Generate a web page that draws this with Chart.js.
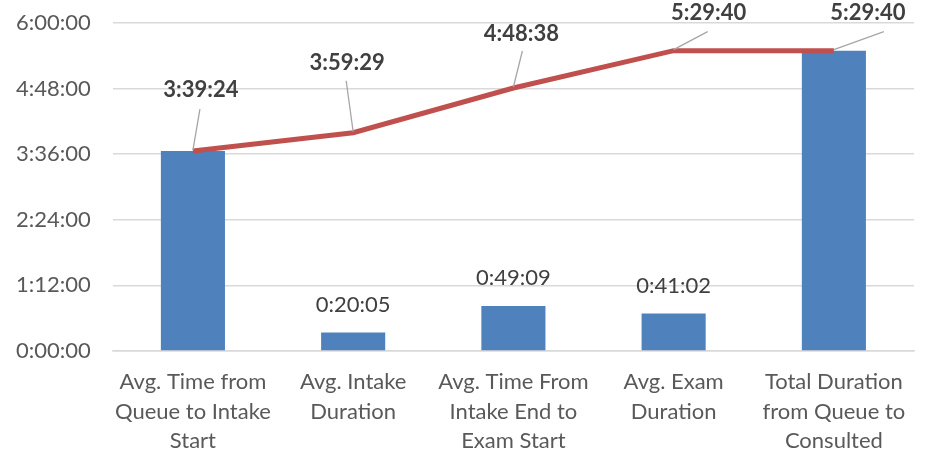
<!DOCTYPE html>
<html>
<head>
<meta charset="utf-8">
<script src="https://cdn.jsdelivr.net/npm/chart.js@4/dist/chart.umd.min.js"></script>
<style>
html,body{margin:0;padding:0;background:#fff;}
#wrap{width:938px;height:454px;position:relative;}
</style>
</head>
<body>
<div id="wrap"><canvas id="c" width="938" height="454"></canvas></div>
<script>
const categories = [
  ["Avg. Time from", "Queue to Intake", "Start"],
  ["Avg. Intake", "Duration"],
  ["Avg. Time From", "Intake End to", "Exam Start"],
  ["Avg. Exam", "Duration"],
  ["Total Duration", "from Queue to", "Consulted"]
];
// values in seconds
const barValues = [13164, 1205, 2949, 2462, 19780];       // 3:39:24, 0:20:05, 0:49:09, 0:41:02, 5:29:40
const cumulativeValues = [13164, 14369, 17318, 19780, 19780]; // 3:39:24, 3:59:29, 4:48:38, 5:29:40, 5:29:40
const barLabelShown = [false, true, true, true, false];
const yTickStep = 4320; // 1:12:00
const yMax = 21600;     // 6:00:00

function fmt(s){
  s = Math.round(s);
  const h = Math.floor(s/3600), m = Math.floor((s%3600)/60), sec = s%60;
  return h + ":" + String(m).padStart(2,"0") + ":" + String(sec).padStart(2,"0");
}

const FONT = "Lato, 'Open Sans', sans-serif";

// label offsets (pixels) for the cumulative line labels: [labelDx, labelDy, leaderDx, leaderDy]
const lineLabelOffsets = [
  [8, -61, 7, -42],
  [-6, -70, -7, -52],
  [8, -54, 9, -37],
  [35, -38, 34, -19],
  [34, -38, 50, -19]
];

const labelPlugin = {
  id: "labels",
  afterDatasetsDraw(chart){
    const ctx = chart.ctx;
    const barMeta = chart.getDatasetMeta(1);
    const lineMeta = chart.getDatasetMeta(0);
    ctx.save();
    ctx.font = "22px " + FONT;
    ctx.fillStyle = "#404040";
    ctx.textAlign = "center";
    ctx.textBaseline = "middle";
    barMeta.data.forEach((el, i) => {
      if (!barLabelShown[i]) return;
      ctx.fillText(fmt(barValues[i]), el.x, el.y - 28);
    });
    lineMeta.data.forEach((pt, i) => {
      const o = lineLabelOffsets[i];
      ctx.strokeStyle = "#a6a6a6";
      ctx.lineWidth = 1.3;
      ctx.beginPath();
      ctx.moveTo(pt.x, pt.y - 1);
      ctx.lineTo(pt.x + o[2], pt.y + o[3]);
      ctx.stroke();
      ctx.font = "bold 22px " + FONT;
      ctx.fillStyle = "#404040";
      ctx.fillText(fmt(cumulativeValues[i]), pt.x + o[0], pt.y + o[1]);
    });
    ctx.restore();
  }
};

new Chart(document.getElementById("c"), {
  data: {
    labels: categories,
    datasets: [
      {
        type: "line",
        data: cumulativeValues,
        borderColor: "#C0504D",
        borderWidth: 5,
        pointRadius: 0,
        tension: 0,
        order: 0,
        borderCapStyle: "butt"
      },
      {
        type: "bar",
        data: barValues,
        backgroundColor: "#4F81BD",
        categoryPercentage: 1,
        barPercentage: 0.4,
        order: 1
      }
    ]
  },
  options: {
    responsive: false,
    animation: false,
    devicePixelRatio: 1,
    layout: { padding: { left: -6, right: 24, top: 23, bottom: -18 } },
    plugins: { legend: { display: false }, tooltip: { enabled: false } },
    scales: {
      x: {
        grid: { display: false, drawTicks: false },
        border: { display: true, color: "#d9d9d9", width: 1.5 },
        ticks: { color: "#595959", font: { family: FONT, size: 22, lineHeight: 1.32 }, padding: 17, maxRotation: 0, autoSkip: false }
      },
      y: {
        min: 0, max: yMax,
        grid: { color: "#d9d9d9", lineWidth: 1.5, drawTicks: false },
        border: { display: false },
        ticks: { stepSize: yTickStep, color: "#595959", font: { family: FONT, size: 22 }, padding: 22, callback: v => fmt(v) },
        afterFit(scale){ scale.paddingTop = 0; scale.paddingBottom = 0; }
      }
    }
  },
  plugins: [labelPlugin]
});
</script>
</body>
</html>
